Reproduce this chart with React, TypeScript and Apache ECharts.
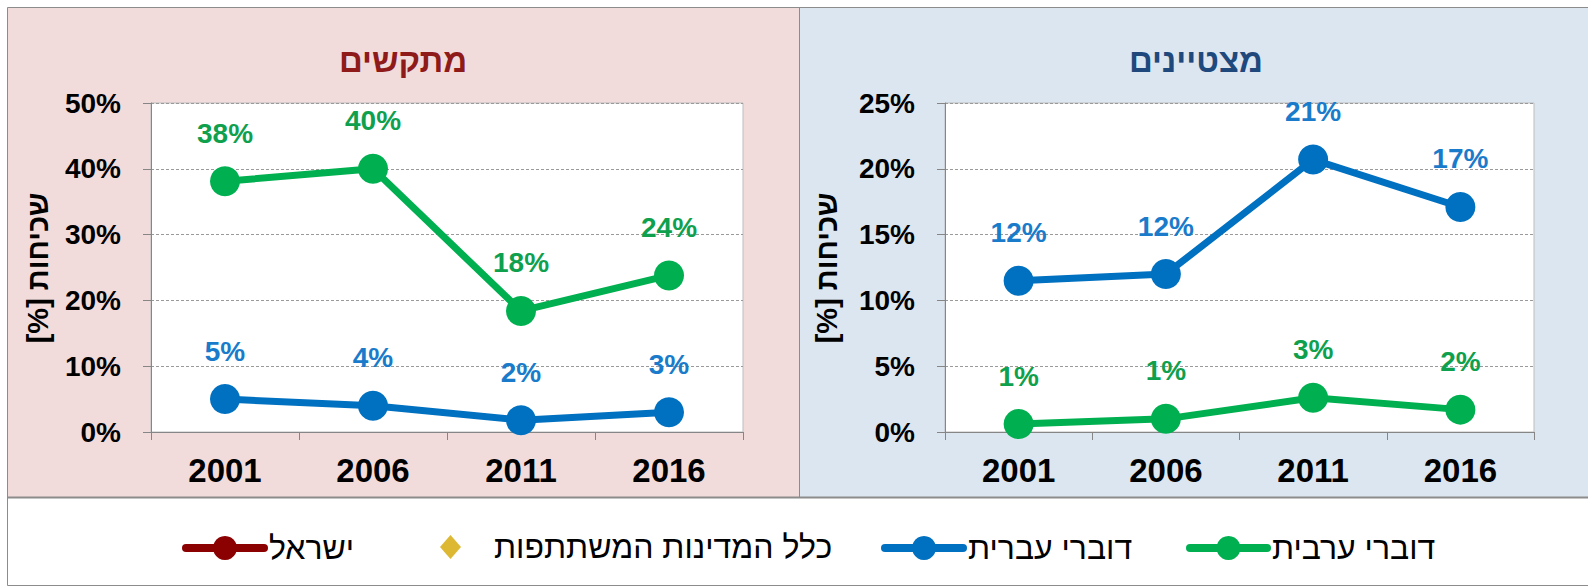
import React, { useEffect, useRef } from 'react';
import * as echarts from 'echarts';

// ---- data ----
const years = ['2001', '2006', '2011', '2016'];
// מתקשים (struggling)
const strugglingArabic = [38.1, 40.0, 18.4, 23.8];
const strugglingHebrew = [5.0, 4.0, 1.8, 3.0];
// מצטיינים (excelling)
const excellingHebrew = [11.5, 12.0, 20.7, 17.1];
const excellingArabic = [0.6, 1.0, 2.6, 1.7];

const leftMax = 50;
const leftStep = 10;
const rightMax = 25;
const rightStep = 5;

const panelTitles = ['מתקשים', 'מצטיינים'];
const yAxisTitle = 'שכיחות [%]';
const seriesNames = ['ישראל', 'כלל המדינות המשתתפות', 'דוברי עברית', 'דוברי ערבית'];

const FONT = "'Liberation Sans', Arial, sans-serif";
const GREEN = '#00B050';
const GREEN_LABEL = '#0FA04E';
const BLUE = '#0070C0';
const BLUE_LABEL = '#1A7BCB';
const DARKRED = '#8B0000';
const GOLD = '#D4A600';

export default function App() {
  const ref = useRef<HTMLDivElement>(null);

  useEffect(() => {
    document.body.style.margin = '0';
    const chart = echarts.init(ref.current!, null, { renderer: 'svg' });

    const makeX = (gridIndex: number) => ({
      type: 'category',
      gridIndex,
      data: years,
      boundaryGap: true,
      axisLine: { show: true, lineStyle: { color: '#868686', width: 1 } },
      axisTick: { show: true, interval: 0, length: 8, alignWithLabel: false, lineStyle: { color: '#868686' } },
      axisLabel: { color: '#000', fontSize: 33, fontWeight: 'bold', fontFamily: FONT, margin: 22 },
      splitLine: { show: false },
    });
    const makeY = (gridIndex: number, max: number, step: number) => ({
      type: 'value',
      gridIndex,
      min: 0,
      max,
      interval: step,
      axisLine: { show: true, lineStyle: { color: '#868686', width: 1 } },
      axisTick: { show: true, length: 8, lineStyle: { color: '#868686' } },
      axisLabel: { color: '#000', fontSize: 28, fontWeight: 'bold', fontFamily: FONT, margin: 30, formatter: '{value}%' },
      splitLine: { show: true, lineStyle: { color: '#9a9a9a', type: [3, 2], width: 1 } },
    });

    const lineSeries = (name: string, data: number[], color: string, labelColor: string, idx: number) => ({
      type: 'line',
      name,
      xAxisIndex: idx,
      yAxisIndex: idx,
      data,
      symbol: 'circle',
      symbolSize: 30,
      itemStyle: { color },
      lineStyle: { color, width: 7 },
      label: {
        show: true,
        position: 'top',
        distance: 19,
        color: labelColor,
        fontSize: 28,
        fontWeight: 'bold',
        fontFamily: FONT,
        formatter: (p: any) => Math.round(p.value) + '%',
      },
      z: 3,
    });

    const legendBase = {
      orient: 'horizontal',
      padding: 0,
      selectedMode: false,
      itemHeight: 30,
      lineStyle: { width: 8, cap: 'round' },
      textStyle: { color: '#000', fontSize: 32, fontFamily: FONT },
    };

    const axisName = '\u202B' + yAxisTitle + '\u202C';

    chart.setOption({
      animation: false,
      graphic: [
        { type: 'rect', z: -10, shape: { x: 7.5, y: 7.5, width: 1600, height: 578 }, style: { fill: '#fff', stroke: '#8c8c8c', lineWidth: 1 } },
        { type: 'rect', z: -9, shape: { x: 8, y: 8, width: 792, height: 489 }, style: { fill: '#F2DCDB' } },
        { type: 'rect', z: -9, shape: { x: 800, y: 8, width: 800, height: 489 }, style: { fill: '#DCE6F1' } },
        { type: 'line', z: -8, shape: { x1: 799.5, y1: 8, x2: 799.5, y2: 497 }, style: { stroke: '#8c8c8c', lineWidth: 1 } },
        { type: 'line', z: -8, shape: { x1: 8, y1: 497.5, x2: 1600, y2: 497.5 }, style: { stroke: '#8c8c8c', lineWidth: 2 } },
        {
          type: 'text', z: 10, x: 403, y: 60,
          style: { text: panelTitles[0], fill: '#8E1A1A', font: `bold 33px ${FONT}`, align: 'center', verticalAlign: 'middle' },
        },
        {
          type: 'text', z: 10, x: 1196, y: 60,
          style: { text: panelTitles[1], fill: '#1F497D', font: `bold 33px ${FONT}`, align: 'center', verticalAlign: 'middle' },
        },
        {
          type: 'text', z: 10, x: 38, y: 268, rotation: Math.PI / 2,
          style: { text: axisName, fill: '#000', font: `bold 29px ${FONT}`, align: 'center', verticalAlign: 'middle' },
        },
        {
          type: 'text', z: 10, x: 827, y: 268, rotation: Math.PI / 2,
          style: { text: axisName, fill: '#000', font: `bold 29px ${FONT}`, align: 'center', verticalAlign: 'middle' },
        },
      ],
      grid: [
        { left: 151, top: 103, width: 592, height: 329, show: true, backgroundColor: '#fff', borderColor: '#bdbdbd', borderWidth: 1 },
        { left: 945, top: 103, width: 589, height: 329, show: true, backgroundColor: '#fff', borderColor: '#bdbdbd', borderWidth: 1 },
      ],
      xAxis: [makeX(0), makeX(1)],
      yAxis: [makeY(0, leftMax, leftStep), makeY(1, rightMax, rightStep)],
      legend: [
        { ...legendBase, left: 182, top: 532, itemWidth: 78, data: [seriesNames[0]] },
        {
          ...legendBase, left: 440, top: 531, itemWidth: 21, itemHeight: 26,
          textStyle: { ...legendBase.textStyle, padding: [0, 0, 0, 28] },
          data: [{ name: seriesNames[1], icon: 'path://M10.5,0L21,12L10.5,24L0,12Z', itemStyle: { color: GOLD } }],
        },
        { ...legendBase, left: 881, top: 532, itemWidth: 78, data: [seriesNames[2]] },
        { ...legendBase, left: 1186, top: 532, itemWidth: 77, data: [seriesNames[3]] },
      ],
      series: [
        lineSeries(seriesNames[3], strugglingArabic, GREEN, GREEN_LABEL, 0),
        lineSeries(seriesNames[2], strugglingHebrew, BLUE, BLUE_LABEL, 0),
        lineSeries(seriesNames[2], excellingHebrew, BLUE, BLUE_LABEL, 1),
        lineSeries(seriesNames[3], excellingArabic, GREEN, GREEN_LABEL, 1),
        {
          type: 'line', name: seriesNames[0], xAxisIndex: 0, yAxisIndex: 0, data: [],
          symbol: 'circle', symbolSize: 30, itemStyle: { color: DARKRED }, lineStyle: { color: DARKRED, width: 7 },
        },
        {
          type: 'scatter', name: seriesNames[1], xAxisIndex: 0, yAxisIndex: 0, data: [],
          symbol: 'diamond', itemStyle: { color: GOLD },
        },
      ],
    });

    return () => chart.dispose();
  }, []);

  return <div ref={ref} style={{ width: 1588, height: 587 }} />;
}
